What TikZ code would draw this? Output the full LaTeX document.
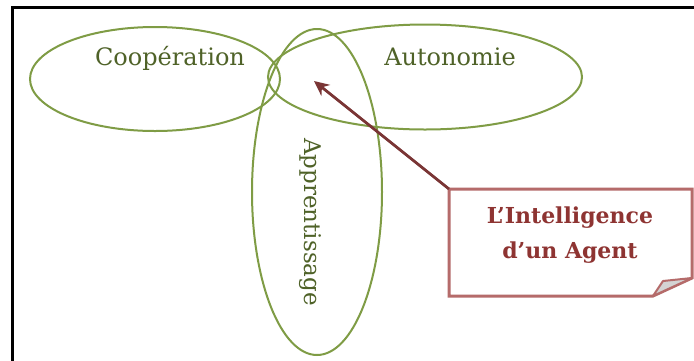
\documentclass[tikz,border=0pt]{standalone}
\usepackage{fontspec}
\setmainfont{DejaVu Serif}
\usetikzlibrary{shapes.geometric,arrows.meta}
\definecolor{olivering}{HTML}{7F9C45}
\definecolor{olivetext}{HTML}{4F6228}
\definecolor{calloutline}{HTML}{B56B6A}
\definecolor{callouttext}{HTML}{8E3432}
\definecolor{arrowred}{HTML}{7A3535}
\definecolor{foldgray}{HTML}{D4D4D4}
\tikzset{
  ring/.style={ellipse, draw=olivering, line width=2pt, inner sep=0pt},
  ringlabel/.style={text=olivetext, font=\fontsize{24}{28}\selectfont, inner sep=0pt, anchor=base},
  calloutlabel/.style={text=callouttext, font=\bfseries\fontsize{22}{35}\selectfont, align=center, inner sep=0pt, anchor=base},
  pointer/.style={draw=arrowred, line width=2.8pt, -{Stealth[length=15pt,width=14pt]}},
}
\begin{document}
\begin{tikzpicture}[x=1pt,y=-1pt]
  \useasboundingbox (0,0) rectangle (694,360);
  \fill[white] (0,0) rectangle (694,360);
  % frame
  \draw[line width=2.8pt, black] (12.5,362) -- (12.5,7.5) -- (696,7.5);
  % the three sets
  \node[ring, minimum width=250pt, minimum height=104pt] (coop) at (155,79) {};
  \node[ring, minimum width=314pt, minimum height=105pt] (auto) at (425,77) {};
  \node[ring, minimum width=130pt, minimum height=326pt] (appr) at (317,192) {};
  \node[ringlabel] (coopl) at (170,65) {Coopération};
  \node[ringlabel] (autol) at (450,65) {Autonomie};
  \node[text=olivetext, font=\fontsize{23}{27}\selectfont, inner sep=0pt, rotate=-90] (apprl) at (310,222) {Apprentissage};
  % callout with folded corner
  \coordinate (cTL) at (449,189);
  \coordinate (cTR) at (692,189);
  \coordinate (cF1) at (692,278);
  \coordinate (cF2) at (653,296);
  \coordinate (cBL) at (449,296);
  \coordinate (cFk) at (663,281);
  \draw[calloutline, line width=3pt, line join=miter, fill=white]
    (cTL) -- (cTR) -- (cF1) -- (cF2) -- (cBL) -- cycle;
  \draw[calloutline, line width=2pt, fill=foldgray, line join=round]
    (cF2) -- (cFk) -- (cF1) -- cycle;
  \node[calloutlabel] (agent) at (570,258) {L’Intelligence\\d’un Agent};
  % pointer into the intersection
  \coordinate (target) at (314,81);
  \draw[pointer] (cTL) -- (target);
\end{tikzpicture}
\end{document}
